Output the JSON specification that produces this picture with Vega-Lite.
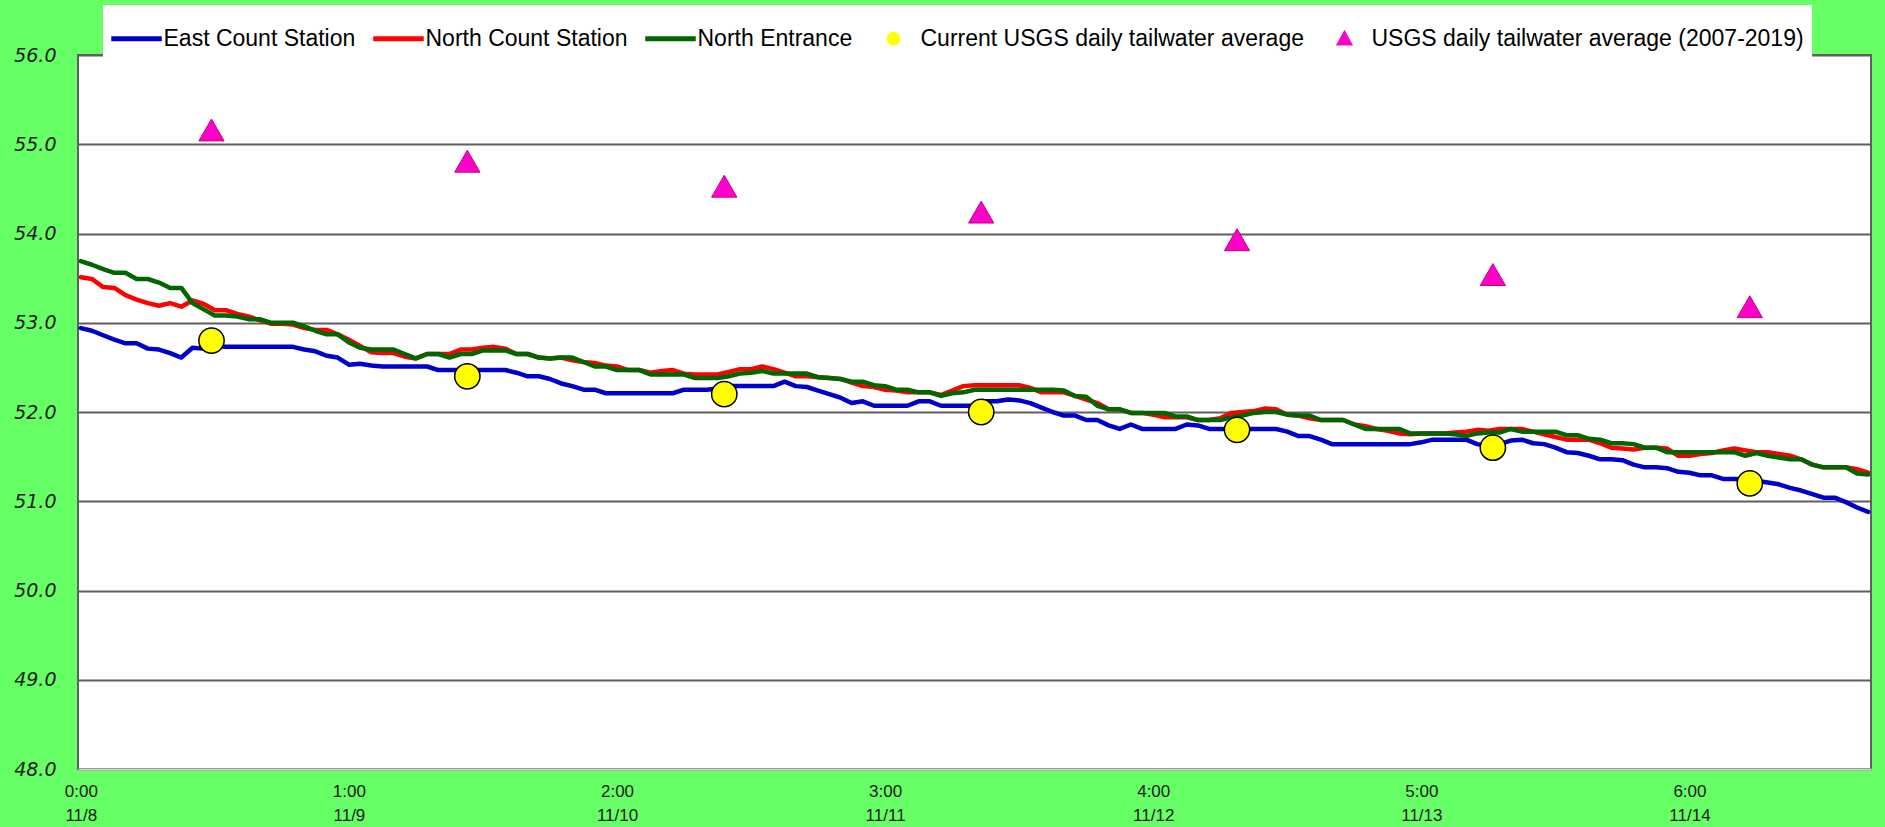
{
  "$schema": "https://vega.github.io/schema/vega-lite/v6.json",
  "width": 1793,
  "height": 714,
  "autosize": {"type": "none"},
  "padding": {"left": 78, "top": 55, "right": 14, "bottom": 58},
  "background": "#66FF66",
  "config": {
    "view": {"stroke": "#5f5f5f", "strokeWidth": 2, "fill": "#FFFFFF"}
  },
  "datasets": {
    "lines": [
{"h":0,"East":52.94,"North":53.51,"Entrance":53.69},
{"h":1,"East":52.91,"North":53.49,"Entrance":53.65},
{"h":2,"East":52.86,"North":53.40,"Entrance":53.60},
{"h":3,"East":52.81,"North":53.39,"Entrance":53.56},
{"h":4,"East":52.77,"North":53.31,"Entrance":53.56},
{"h":5,"East":52.77,"North":53.26,"Entrance":53.49},
{"h":6,"East":52.71,"North":53.22,"Entrance":53.49},
{"h":7,"East":52.70,"North":53.19,"Entrance":53.45},
{"h":8,"East":52.66,"North":53.22,"Entrance":53.39},
{"h":9,"East":52.61,"North":53.18,"Entrance":53.39},
{"h":10,"East":52.72,"North":53.25,"Entrance":53.22},
{"h":11,"East":52.71,"North":53.21,"Entrance":53.15},
{"h":12,"East":52.74,"North":53.14,"Entrance":53.08},
{"h":13,"East":52.73,"North":53.14,"Entrance":53.08},
{"h":14,"East":52.73,"North":53.10,"Entrance":53.07},
{"h":15,"East":52.73,"North":53.07,"Entrance":53.04},
{"h":16,"East":52.73,"North":53.03,"Entrance":53.04},
{"h":17,"East":52.73,"North":52.99,"Entrance":53.00},
{"h":18,"East":52.73,"North":52.99,"Entrance":53.00},
{"h":19,"East":52.73,"North":52.98,"Entrance":53.00},
{"h":20,"East":52.70,"North":52.94,"Entrance":52.96},
{"h":21,"East":52.68,"North":52.92,"Entrance":52.91},
{"h":22,"East":52.63,"North":52.92,"Entrance":52.87},
{"h":23,"East":52.61,"North":52.87,"Entrance":52.87},
{"h":24,"East":52.53,"North":52.81,"Entrance":52.78},
{"h":25,"East":52.54,"North":52.74,"Entrance":52.72},
{"h":26,"East":52.52,"North":52.67,"Entrance":52.70},
{"h":27,"East":52.51,"North":52.66,"Entrance":52.70},
{"h":28,"East":52.51,"North":52.66,"Entrance":52.70},
{"h":29,"East":52.51,"North":52.62,"Entrance":52.65},
{"h":30,"East":52.51,"North":52.60,"Entrance":52.60},
{"h":31,"East":52.51,"North":52.65,"Entrance":52.65},
{"h":32,"East":52.47,"North":52.65,"Entrance":52.65},
{"h":33,"East":52.47,"North":52.65,"Entrance":52.61},
{"h":34,"East":52.47,"North":52.70,"Entrance":52.65},
{"h":35,"East":52.47,"North":52.70,"Entrance":52.65},
{"h":36,"East":52.47,"North":52.72,"Entrance":52.69},
{"h":37,"East":52.47,"North":52.73,"Entrance":52.69},
{"h":38,"East":52.47,"North":52.71,"Entrance":52.69},
{"h":39,"East":52.44,"North":52.65,"Entrance":52.65},
{"h":40,"East":52.40,"North":52.65,"Entrance":52.65},
{"h":41,"East":52.40,"North":52.61,"Entrance":52.61},
{"h":42,"East":52.37,"North":52.60,"Entrance":52.60},
{"h":43,"East":52.32,"North":52.61,"Entrance":52.61},
{"h":44,"East":52.29,"North":52.58,"Entrance":52.61},
{"h":45,"East":52.25,"North":52.56,"Entrance":52.56},
{"h":46,"East":52.25,"North":52.55,"Entrance":52.51},
{"h":47,"East":52.21,"North":52.52,"Entrance":52.51},
{"h":48,"East":52.21,"North":52.51,"Entrance":52.47},
{"h":49,"East":52.21,"North":52.47,"Entrance":52.47},
{"h":50,"East":52.21,"North":52.47,"Entrance":52.47},
{"h":51,"East":52.21,"North":52.44,"Entrance":52.42},
{"h":52,"East":52.21,"North":52.46,"Entrance":52.42},
{"h":53,"East":52.21,"North":52.47,"Entrance":52.42},
{"h":54,"East":52.25,"North":52.43,"Entrance":52.42},
{"h":55,"East":52.25,"North":52.42,"Entrance":52.38},
{"h":56,"East":52.25,"North":52.42,"Entrance":52.38},
{"h":57,"East":52.26,"North":52.42,"Entrance":52.38},
{"h":58,"East":52.29,"North":52.45,"Entrance":52.40},
{"h":59,"East":52.29,"North":52.48,"Entrance":52.43},
{"h":60,"East":52.29,"North":52.48,"Entrance":52.44},
{"h":61,"East":52.29,"North":52.51,"Entrance":52.46},
{"h":62,"East":52.29,"North":52.48,"Entrance":52.43},
{"h":63,"East":52.34,"North":52.44,"Entrance":52.43},
{"h":64,"East":52.29,"North":52.40,"Entrance":52.43},
{"h":65,"East":52.28,"North":52.40,"Entrance":52.43},
{"h":66,"East":52.24,"North":52.39,"Entrance":52.39},
{"h":67,"East":52.20,"North":52.38,"Entrance":52.38},
{"h":68,"East":52.16,"North":52.37,"Entrance":52.37},
{"h":69,"East":52.10,"North":52.33,"Entrance":52.34},
{"h":70,"East":52.12,"North":52.29,"Entrance":52.34},
{"h":71,"East":52.07,"North":52.28,"Entrance":52.30},
{"h":72,"East":52.07,"North":52.25,"Entrance":52.29},
{"h":73,"East":52.07,"North":52.24,"Entrance":52.25},
{"h":74,"East":52.07,"North":52.22,"Entrance":52.25},
{"h":75,"East":52.12,"North":52.22,"Entrance":52.22},
{"h":76,"East":52.12,"North":52.22,"Entrance":52.22},
{"h":77,"East":52.07,"North":52.19,"Entrance":52.18},
{"h":78,"East":52.07,"North":52.24,"Entrance":52.21},
{"h":79,"East":52.07,"North":52.29,"Entrance":52.22},
{"h":80,"East":52.07,"North":52.30,"Entrance":52.25},
{"h":81,"East":52.12,"North":52.30,"Entrance":52.25},
{"h":82,"East":52.12,"North":52.30,"Entrance":52.25},
{"h":83,"East":52.14,"North":52.30,"Entrance":52.25},
{"h":84,"East":52.13,"North":52.30,"Entrance":52.25},
{"h":85,"East":52.10,"North":52.27,"Entrance":52.25},
{"h":86,"East":52.05,"North":52.22,"Entrance":52.25},
{"h":87,"East":52.00,"North":52.22,"Entrance":52.25},
{"h":88,"East":51.96,"North":52.22,"Entrance":52.24},
{"h":89,"East":51.96,"North":52.18,"Entrance":52.18},
{"h":90,"East":51.91,"North":52.14,"Entrance":52.17},
{"h":91,"East":51.91,"North":52.10,"Entrance":52.07},
{"h":92,"East":51.85,"North":52.03,"Entrance":52.03},
{"h":93,"East":51.81,"North":52.03,"Entrance":52.03},
{"h":94,"East":51.86,"North":51.99,"Entrance":51.99},
{"h":95,"East":51.81,"North":51.99,"Entrance":51.99},
{"h":96,"East":51.81,"North":51.97,"Entrance":51.99},
{"h":97,"East":51.81,"North":51.94,"Entrance":51.99},
{"h":98,"East":51.81,"North":51.94,"Entrance":51.95},
{"h":99,"East":51.86,"North":51.94,"Entrance":51.95},
{"h":100,"East":51.85,"North":51.91,"Entrance":51.91},
{"h":101,"East":51.81,"North":51.91,"Entrance":51.91},
{"h":102,"East":51.81,"North":51.93,"Entrance":51.91},
{"h":103,"East":51.81,"North":51.99,"Entrance":51.94},
{"h":104,"East":51.81,"North":52.00,"Entrance":51.96},
{"h":105,"East":51.81,"North":52.01,"Entrance":51.99},
{"h":106,"East":51.81,"North":52.04,"Entrance":52.00},
{"h":107,"East":51.81,"North":52.03,"Entrance":52.00},
{"h":108,"East":51.78,"North":51.97,"Entrance":51.97},
{"h":109,"East":51.73,"North":51.96,"Entrance":51.96},
{"h":110,"East":51.73,"North":51.93,"Entrance":51.96},
{"h":111,"East":51.69,"North":51.91,"Entrance":51.91},
{"h":112,"East":51.64,"North":51.91,"Entrance":51.91},
{"h":113,"East":51.64,"North":51.91,"Entrance":51.91},
{"h":114,"East":51.64,"North":51.86,"Entrance":51.86},
{"h":115,"East":51.64,"North":51.84,"Entrance":51.81},
{"h":116,"East":51.64,"North":51.81,"Entrance":51.81},
{"h":117,"East":51.64,"North":51.79,"Entrance":51.81},
{"h":118,"East":51.64,"North":51.76,"Entrance":51.81},
{"h":119,"East":51.64,"North":51.75,"Entrance":51.76},
{"h":120,"East":51.66,"North":51.76,"Entrance":51.76},
{"h":121,"East":51.69,"North":51.76,"Entrance":51.76},
{"h":122,"East":51.69,"North":51.76,"Entrance":51.76},
{"h":123,"East":51.69,"North":51.77,"Entrance":51.75},
{"h":124,"East":51.69,"North":51.78,"Entrance":51.73},
{"h":125,"East":51.64,"North":51.80,"Entrance":51.76},
{"h":126,"East":51.62,"North":51.79,"Entrance":51.77},
{"h":127,"East":51.64,"North":51.81,"Entrance":51.77},
{"h":128,"East":51.68,"North":51.81,"Entrance":51.81},
{"h":129,"East":51.69,"North":51.81,"Entrance":51.78},
{"h":130,"East":51.65,"North":51.78,"Entrance":51.78},
{"h":131,"East":51.64,"North":51.75,"Entrance":51.78},
{"h":132,"East":51.60,"North":51.72,"Entrance":51.78},
{"h":133,"East":51.55,"North":51.69,"Entrance":51.74},
{"h":134,"East":51.54,"North":51.69,"Entrance":51.74},
{"h":135,"East":51.51,"North":51.69,"Entrance":51.70},
{"h":136,"East":51.47,"North":51.65,"Entrance":51.69},
{"h":137,"East":51.47,"North":51.60,"Entrance":51.65},
{"h":138,"East":51.46,"North":51.59,"Entrance":51.65},
{"h":139,"East":51.41,"North":51.58,"Entrance":51.64},
{"h":140,"East":51.38,"North":51.60,"Entrance":51.60},
{"h":141,"East":51.38,"North":51.60,"Entrance":51.60},
{"h":142,"East":51.37,"North":51.59,"Entrance":51.55},
{"h":143,"East":51.33,"North":51.51,"Entrance":51.55},
{"h":144,"East":51.32,"North":51.51,"Entrance":51.55},
{"h":145,"East":51.29,"North":51.53,"Entrance":51.55},
{"h":146,"East":51.29,"North":51.54,"Entrance":51.55},
{"h":147,"East":51.25,"North":51.57,"Entrance":51.55},
{"h":148,"East":51.25,"North":51.59,"Entrance":51.55},
{"h":149,"East":51.25,"North":51.57,"Entrance":51.51},
{"h":150,"East":51.23,"North":51.55,"Entrance":51.54},
{"h":151,"East":51.21,"North":51.55,"Entrance":51.51},
{"h":152,"East":51.19,"North":51.53,"Entrance":51.49},
{"h":153,"East":51.15,"North":51.51,"Entrance":51.47},
{"h":154,"East":51.12,"North":51.47,"Entrance":51.47},
{"h":155,"East":51.08,"North":51.41,"Entrance":51.41},
{"h":156,"East":51.04,"North":51.38,"Entrance":51.38},
{"h":157,"East":51.04,"North":51.38,"Entrance":51.38},
{"h":158,"East":50.99,"North":51.38,"Entrance":51.38},
{"h":159,"East":50.93,"North":51.36,"Entrance":51.31},
{"h":160,"East":50.88,"North":51.32,"Entrance":51.30}
    ],
    "points": [
      {"h": 11.7, "Current": 52.8, "Hist": 55.16},
      {"h": 34.6, "Current": 52.4, "Hist": 54.81},
      {"h": 57.6, "Current": 52.2, "Hist": 54.53},
      {"h": 80.6, "Current": 52.0, "Hist": 54.24},
      {"h": 103.5, "Current": 51.8, "Hist": 53.93},
      {"h": 126.4, "Current": 51.6, "Hist": 53.54},
      {"h": 149.4, "Current": 51.2, "Hist": 53.18}
    ]
  },
  "encoding": {
    "x": {
      "field": "h", "type": "quantitative",
      "scale": {"domain": [-0.25, 160.25], "nice": false, "zero": false},
      "axis": {
        "title": null, "values": [0, 24, 48, 72, 96, 120, 144],
        "labelExpr": "[floor(datum.value/24) + ':00', '11/' + (8 + floor(datum.value/24))]",
        "grid": false, "ticks": false, "domain": true, "domainColor": "#d4d4d4", "domainWidth": 2,
        "labelFont": "Liberation Sans", "labelFontSize": 17, "labelColor": "#1a1a1a",
        "labelLineHeight": 24, "labelPadding": 14, "labelFlush": false, "labelOverlap": false
      }
    },
    "y": {
      "field": "temp", "type": "quantitative",
      "scale": {"domain": [48, 56], "nice": false, "zero": false},
      "axis": {
        "title": null, "values": [48, 49, 50, 51, 52, 53, 54, 55, 56], "format": ".1f",
        "grid": true, "gridColor": "#5f5f5f", "gridWidth": 2, "ticks": false, "domain": false,
        "labelFont": "DejaVu Sans", "labelFontStyle": "italic", "labelFontSize": 19, "labelColor": "#1a1a1a",
        "labelPadding": 22, "labelFlush": false, "labelOverlap": false, "labelBound": false
      }
    }
  },
  "layer": [
    {
      "data": {"name": "lines"},
      "transform": [{"fold": ["East", "North", "Entrance"], "as": ["series", "temp"]}],
      "mark": {"type": "line", "strokeWidth": 4.5, "strokeJoin": "round", "strokeCap": "round"},
      "encoding": {
        "color": {
          "field": "series", "type": "nominal",
          "scale": {
            "domain": ["East", "North", "Entrance", "Current", "Hist"],
            "range": ["#0000CC", "#FF0000", "#006600", "#FFFF00", "#FF00CC"]
          },
          "legend": {
            "title": null, "orient": "none", "legendX": 25, "legendY": -50,
            "direction": "horizontal", "columns": 5,
            "fillColor": "#FFFFFF", "padding": 8, "columnPadding": 15,
            "labelFont": "Liberation Sans", "labelFontSize": 23, "labelColor": "#000000",
            "labelOffset": 1.5, "symbolOffset": 0, "labelLimit": 0,
            "symbolSize": 2401, "symbolStrokeWidth": 1.5,
            "labelExpr": "datum.value == 'East' ? 'East Count Station' : datum.value == 'North' ? 'North Count Station' : datum.value == 'Entrance' ? 'North Entrance' : datum.value == 'Current' ? 'Current USGS daily tailwater average' : 'USGS daily tailwater average (2007-2019)'",
            "encode": {
              "symbols": {
                "update": {
                  "shape": {"signal": "datum.value == 'Current' ? 'M0.25,0A0.25,0.25,0,1,1,-0.25,0A0.25,0.25,0,1,1,0.25,0Z' : datum.value == 'Hist' ? 'M0,-0.3L0.3,0.24L-0.3,0.24Z' : 'M-1,-0.075H1V0.075H-1Z'"},
                  "fill": {"signal": "datum.value == 'East' ? '#0000CC' : datum.value == 'North' ? '#FF0000' : datum.value == 'Entrance' ? '#006600' : datum.value == 'Current' ? '#FFFF00' : '#FF00CC'"},
                  "stroke": {"signal": "datum.value == 'East' ? '#0000CC' : datum.value == 'North' ? '#FF0000' : datum.value == 'Entrance' ? '#006600' : datum.value == 'Current' ? '#000000' : '#FF00CC'"},
                  "opacity": {"value": 1}
                }
              }
            }
          }
        }
      }
    },
    {
      "data": {"name": "points"},
      "transform": [{"fold": ["Current", "Hist"], "as": ["series", "temp"]}],
      "mark": {"type": "point", "filled": true, "size": 640, "opacity": 1},
      "encoding": {
        "color": {"field": "series", "type": "nominal"},
        "shape": {
          "field": "series", "type": "nominal",
          "scale": {"domain": ["Current", "Hist"], "range": ["circle", "triangle-up"]},
          "legend": null
        },
        "stroke": {
          "field": "series", "type": "nominal",
          "scale": {"domain": ["Current", "Hist"], "range": ["#000000", "#C80078"]},
          "legend": null
        },
        "strokeWidth": {
          "field": "series", "type": "nominal",
          "scale": {"domain": ["Current", "Hist"], "range": [1.5, 1]},
          "legend": null
        }
      }
    }
  ]
}
